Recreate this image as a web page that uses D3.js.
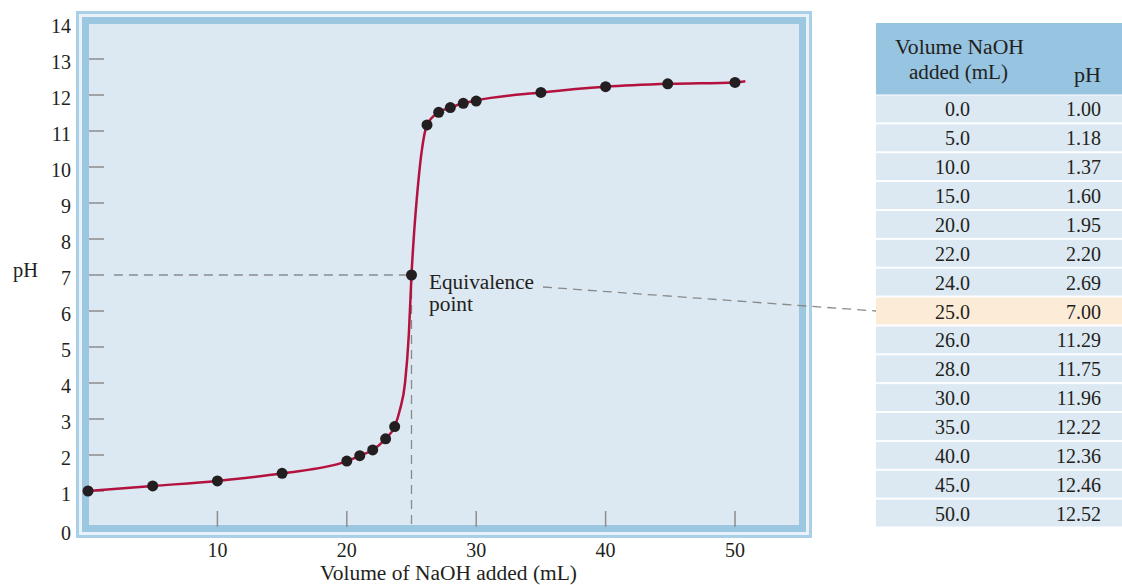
<!DOCTYPE html>
<html>
<head>
<meta charset="utf-8">
<script src="https://cdn.jsdelivr.net/npm/d3@7"></script>
<style>
  html, body { margin: 0; padding: 0; background: #ffffff; }
  svg { display: block; }
  text { font-family: "Liberation Serif", "Times New Roman", serif; fill: #231f20; }
</style>
</head>
<body>
<svg id="chart" width="1122" height="585"></svg>
<script>
// ---------- data ----------
// plotted points
const dotVolume = [0, 5, 10, 15, 20, 21, 22, 23, 23.7, 25, 26.2, 27.1, 28, 29, 30, 35, 40, 44.8, 50];
const dotPH     = [1.00, 1.14, 1.28, 1.49, 1.83, 1.98, 2.14, 2.45, 2.79, 7.00, 11.17, 11.52, 11.65, 11.77, 11.83, 12.07, 12.23, 12.31, 12.35];
// titration curve
const curveVolume = [0, 5, 10, 15, 20, 21, 22, 23, 23.7, 24.1, 24.5, 24.8, 25, 25.2, 25.4, 25.8, 26.2, 27.1, 28, 29, 30, 35, 40, 45, 50, 50.8];
const curvePH     = [1.00, 1.14, 1.28, 1.49, 1.83, 1.98, 2.14, 2.45, 2.79, 3.25, 4.0, 5.39, 7.00, 8.17, 9.08, 10.47, 11.17, 11.52, 11.65, 11.77, 11.85, 12.07, 12.23, 12.31, 12.35, 12.38];
// axes
const xTicks = [10, 20, 30, 40, 50];
const yTicks = [0, 1, 2, 3, 4, 5, 6, 7, 8, 9, 10, 11, 12, 13, 14];
const xDomain = [0, 55];
const yDomain = [0, 14];
const xTitle = "Volume of NaOH added (mL)";
const yTitle = "pH";
// equivalence point
const equivVolume = 25.0;
const equivPH = 7.0;
const equivGuideStart = 2;
const equivLabel = ["Equivalence", "point"];
// table
const tableHeader = ["Volume NaOH", "added (mL)", "pH"];
const tableVolume = ["0.0", "5.0", "10.0", "15.0", "20.0", "22.0", "24.0", "25.0", "26.0", "28.0", "30.0", "35.0", "40.0", "45.0", "50.0"];
const tablePH     = ["1.00", "1.18", "1.37", "1.60", "1.95", "2.20", "2.69", "7.00", "11.29", "11.75", "11.96", "12.22", "12.36", "12.46", "12.52"];
const highlightIndex = 7;

// ---------- layout ----------
const svg = d3.select("#chart");
const frame = { x0: 76, y0: 11, x1: 812, y1: 538 };
const inner = { x0: 89, y0: 24, x1: 799, y1: 526 };
const x = d3.scaleLinear().domain(xDomain).range([88, 799.7]);
const y = d3.scaleLinear().domain(yDomain).range([527, 23]);

// helper for word texts stretched to the reference widths
function word(sel, len) {
  return sel.attr("textLength", len).attr("lengthAdjust", "spacingAndGlyphs");
}

// ---------- frame ----------
const layers = [
  { inset: 0, fill: "#a9d0e6" },
  { inset: 3, fill: "#e8f2f8" },
  { inset: 6, fill: "#9bc7e1" },
  { inset: 13, fill: "#dce8f2" }
];
svg.selectAll("rect.frame").data(layers).join("rect")
  .attr("class", "frame")
  .attr("x", d => frame.x0 + d.inset)
  .attr("y", d => frame.y0 + d.inset)
  .attr("width", d => frame.x1 - frame.x0 - 2 * d.inset)
  .attr("height", d => frame.y1 - frame.y0 - 2 * d.inset)
  .attr("fill", d => d.fill);

// ---------- ticks ----------
const tickColor = "#8e8e8e";
svg.append("g").selectAll("line").data(yTicks.filter(d => d > 0 && d < 14)).join("line")
  .attr("x1", inner.x0).attr("x2", inner.x0 + 15)
  .attr("y1", d => y(d)).attr("y2", d => y(d))
  .attr("stroke", tickColor).attr("stroke-width", 1.5);
svg.append("g").selectAll("line").data(xTicks).join("line")
  .attr("x1", d => x(d)).attr("x2", d => x(d))
  .attr("y1", y(0)).attr("y2", y(0) - 16)
  .attr("stroke", tickColor).attr("stroke-width", 1.5);

// tick labels
svg.append("g").selectAll("text").data(yTicks).join("text")
  .attr("x", 71)
  .attr("y", d => y(d) + (d === 0 ? 13 : 10))
  .attr("text-anchor", "end")
  .attr("font-size", 20)
  .text(d => d);
svg.append("g").selectAll("text").data(xTicks).join("text")
  .attr("x", d => x(d))
  .attr("y", 557)
  .attr("text-anchor", "middle")
  .attr("font-size", 20)
  .text(d => d);

// axis titles
word(svg.append("text").attr("x", 320).attr("y", 580)
  .attr("font-size", 20).text(xTitle), 257);
word(svg.append("text").attr("x", 13).attr("y", 277).attr("font-size", 20).text(yTitle), 25);

// ---------- guide lines ----------
const dashColor = "#8a8a8a";
svg.append("line")
  .attr("x1", x(equivGuideStart)).attr("x2", x(equivVolume))
  .attr("y1", y(equivPH)).attr("y2", y(equivPH))
  .attr("stroke", dashColor).attr("stroke-width", 1.3).attr("stroke-dasharray", "9,6");
svg.append("line")
  .attr("x1", x(equivVolume)).attr("x2", x(equivVolume))
  .attr("y1", y(equivPH)).attr("y2", y(0))
  .attr("stroke", dashColor).attr("stroke-width", 1.3).attr("stroke-dasharray", "9,6");

// ---------- curve ----------
const curveData = curveVolume.map((v, i) => [v, curvePH[i]]);
svg.append("path")
  .datum(curveData)
  .attr("d", d3.line().x(d => x(d[0])).y(d => y(d[1])).curve(d3.curveMonotoneX))
  .attr("fill", "none")
  .attr("stroke", "#b3123f")
  .attr("stroke-width", 2.5);

// ---------- dots ----------
svg.append("g").selectAll("circle").data(dotVolume.map((v, i) => [v, dotPH[i]])).join("circle")
  .attr("cx", d => x(d[0])).attr("cy", d => y(d[1]))
  .attr("r", 5.5).attr("fill", "#231f20");

// ---------- equivalence label ----------
const labelLens = [105, 44];
svg.append("g").selectAll("text").data(equivLabel).join("text")
  .attr("x", 429)
  .attr("y", (d, i) => 289 + i * 22)
  .attr("font-size", 20)
  .attr("textLength", (d, i) => labelLens[i])
  .attr("lengthAdjust", "spacingAndGlyphs")
  .text(d => d);

// ---------- table ----------
const table = { x0: 876, x1: 1122, top: 23, headBottom: 94.5, bottom: 527.5 };
const rowY = d3.scaleBand().domain(d3.range(tableVolume.length)).range([table.headBottom, table.bottom]);
svg.append("rect")
  .attr("x", table.x0).attr("y", table.top)
  .attr("width", table.x1 - table.x0).attr("height", table.headBottom - table.top)
  .attr("fill", "#96c4e1");
svg.append("g").selectAll("rect").data(tableVolume).join("rect")
  .attr("x", table.x0)
  .attr("y", (d, i) => rowY(i) + 1)
  .attr("width", table.x1 - table.x0)
  .attr("height", rowY.bandwidth() - 2)
  .attr("fill", (d, i) => i === highlightIndex ? "#fcebd7" : "#dce8f2");

word(svg.append("text").attr("x", 895).attr("y", 54)
  .attr("font-size", 20).text(tableHeader[0]), 129);
word(svg.append("text").attr("x", 909).attr("y", 79)
  .attr("font-size", 20).text(tableHeader[1]), 99);
word(svg.append("text").attr("x", 1074).attr("y", 82)
  .attr("font-size", 20).text(tableHeader[2]), 27);

svg.append("g").selectAll("text").data(tableVolume).join("text")
  .attr("x", 970)
  .attr("y", (d, i) => rowY(i) + rowY.bandwidth() / 2 + 7.5)
  .attr("text-anchor", "end")
  .attr("font-size", 20)
  .text(d => d);
svg.append("g").selectAll("text").data(tablePH).join("text")
  .attr("x", 1101)
  .attr("y", (d, i) => rowY(i) + rowY.bandwidth() / 2 + 7.5)
  .attr("text-anchor", "end")
  .attr("font-size", 20)
  .text(d => d);

// leader line from label to the highlighted table row
svg.append("line")
  .attr("x1", 543).attr("y1", 287)
  .attr("x2", table.x0).attr("y2", rowY(highlightIndex) + rowY.bandwidth() / 2)
  .attr("stroke", dashColor).attr("stroke-width", 1.3).attr("stroke-dasharray", "9,6");
</script>
</body>
</html>
